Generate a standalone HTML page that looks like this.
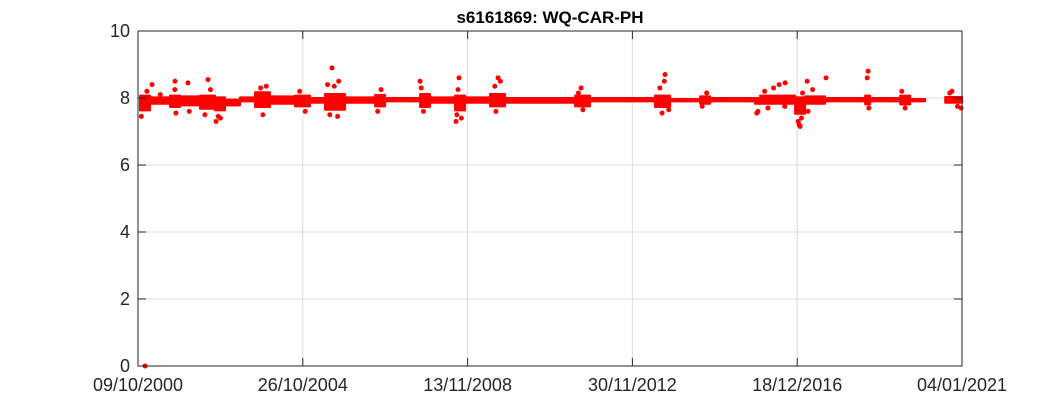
<!DOCTYPE html>
<html><head><meta charset="utf-8"><style>
html,body{margin:0;padding:0;background:#fff;}
svg{display:block;font-family:"Liberation Sans",Arial,sans-serif;}
</style></head><body>
<svg id="chart" width="1063" height="413" viewBox="0 0 1063 413"></svg>
<script>
const xTickDays=[0,1478,2956,4434,5912,7390];
const xTickLabels=["09/10/2000","26/10/2004","13/11/2008","30/11/2012","18/12/2016","04/01/2021"];
const yTicks=[0,2,4,6,8,10];
// band segments: start day, end day, low, high
const segStart=[18,108,287,377,556,691,780,915,1049,1184,1408,1543,1677,1857,2126,2216,2530,2619,2843,2933,3157,3292,3920,4054,4637,4772,5041,5131,5534,5579,5893,5983,6162,6521,6566,6835,6925,7239];
const segEnd=[108,287,377,556,691,780,915,1049,1184,1408,1543,1677,1857,2126,2216,2530,2619,2843,2933,3157,3292,3920,4054,4637,4772,5041,5131,5534,5579,5893,5983,6162,6521,6566,6835,6925,7059,7391];
const segLow=[7.6,7.8,7.7,7.75,7.65,7.6,7.75,7.87,7.7,7.8,7.72,7.83,7.62,7.83,7.72,7.87,7.7,7.83,7.6,7.83,7.72,7.83,7.72,7.87,7.7,7.87,7.8,7.87,7.8,7.8,7.5,7.8,7.87,7.78,7.87,7.78,7.87,7.83];
const segHigh=[8.1,8.05,8.1,8.08,8.1,8.05,7.98,8.05,8.2,8.08,8.1,8.03,8.15,8.05,8.12,8.03,8.15,8.05,8.1,8.05,8.15,8.03,8.1,8.03,8.1,8.0,8.08,8.03,8.03,8.1,8.05,8.08,8.03,8.1,8.03,8.1,8.0,8.06];
// isolated / scattered points
const ptDays=[63,126,332,448,628,700,1740,2530,2852,2879,3229,3974,4727,5804,5938,6001,6171,6548,7382,
  30,80,200,330,340,460,600,650,720,740,1100,1120,1150,1450,1500,1700,1720,1760,1790,1800,2150,2180,2540,2560,2860,2870,2900,3200,3210,3250,3950,3990,4680,4700,4720,4760,5060,5100,5550,5560,5620,5650,5700,5750,5800,5920,5930,5950,5960,6010,6050,6540,6555,6850,6880,7280,7300,7350];
const ptVals=[0,8.4,8.5,8.45,8.55,7.3,8.9,8.5,7.3,8.6,8.6,8.3,8.7,8.45,7.15,8.5,8.6,8.8,7.7,
  7.45,8.2,8.1,8.25,7.55,7.6,7.5,8.25,7.45,7.4,8.3,7.5,8.35,8.2,7.6,8.4,7.5,8.35,7.45,8.5,7.6,8.25,8.3,7.6,7.5,8.25,7.4,8.35,7.6,8.5,8.15,7.65,8.3,7.55,8.5,7.65,7.75,8.15,7.55,7.6,8.2,7.7,8.3,8.4,7.75,7.3,7.2,7.4,8.15,7.6,8.25,8.6,7.7,8.2,7.7,8.15,8.2,7.75];

const L=138,R=962,T=31,B=366;
const xS=d=>L+(d-0)/(7390-0)*(R-L);
const yS=v=>B-(v-0)/(10-0)*(B-T);
const NS="http://www.w3.org/2000/svg";
const svg=document.getElementById('chart');
function mk(tag,attrs){const e=document.createElementNS(NS,tag);for(const k in attrs)e.setAttribute(k,attrs[k]);svg.appendChild(e);return e;}

xTickDays.forEach(d=>{const g=mk('line',{x1:xS(d),x2:xS(d),y1:T,y2:B,stroke:'#dcdcdc','stroke-width':1});

});
yTicks.forEach(v=>{const g=mk('line',{x1:L,x2:R,y1:yS(v),y2:yS(v),stroke:'#dcdcdc','stroke-width':1});

});

for(let i=0;i<segStart.length;i++){
  const x1=xS(segStart[i]),x2=xS(segEnd[i]),y1=yS(segHigh[i]),y2=yS(segLow[i]);
  const r=mk('rect',{x:x1-1,y:y1,width:Math.max(2,x2-x1+2),height:y2-y1,fill:'#ff0000',rx:1});
  
  
}
for(let i=0;i<ptDays.length;i++){
  const c=mk('circle',{cx:xS(ptDays[i]),cy:yS(ptVals[i]),r:2.5,fill:'#ff0000'});
  
  
}

const box=mk('rect',{x:L,y:T,width:R-L,height:B-T,fill:'none',stroke:'#262626','stroke-width':1});



xTickDays.forEach((d,i)=>{
  const x=xS(d);
  const t1=mk('line',{x1:x,x2:x,y1:B,y2:B-8,stroke:'#262626'});
  
  
  const t2=mk('line',{x1:x,x2:x,y1:T,y2:T+8,stroke:'#262626'});
  
  
  const tx=mk('text',{x:x,y:391,'text-anchor':'middle','font-size':18,fill:'#262626'});
  tx.textContent=xTickLabels[i];
  
  
});
yTicks.forEach(v=>{
  const y=yS(v);
  const t1=mk('line',{x1:L,x2:L+8,y1:y,y2:y,stroke:'#262626'});
  
  
  const t2=mk('line',{x1:R,x2:R-8,y1:y,y2:y,stroke:'#262626'});
  
  
  const tx=mk('text',{x:L-8,y:y+6,'text-anchor':'end','font-size':18,fill:'#262626'});
  tx.textContent=String(v);
  
  
});
const title=mk('text',{x:(L+R)/2,y:23,'text-anchor':'middle','font-size':17,'font-weight':'bold',fill:'#000'});
title.textContent='s6161869: WQ-CAR-PH';


</script>
</body></html>
